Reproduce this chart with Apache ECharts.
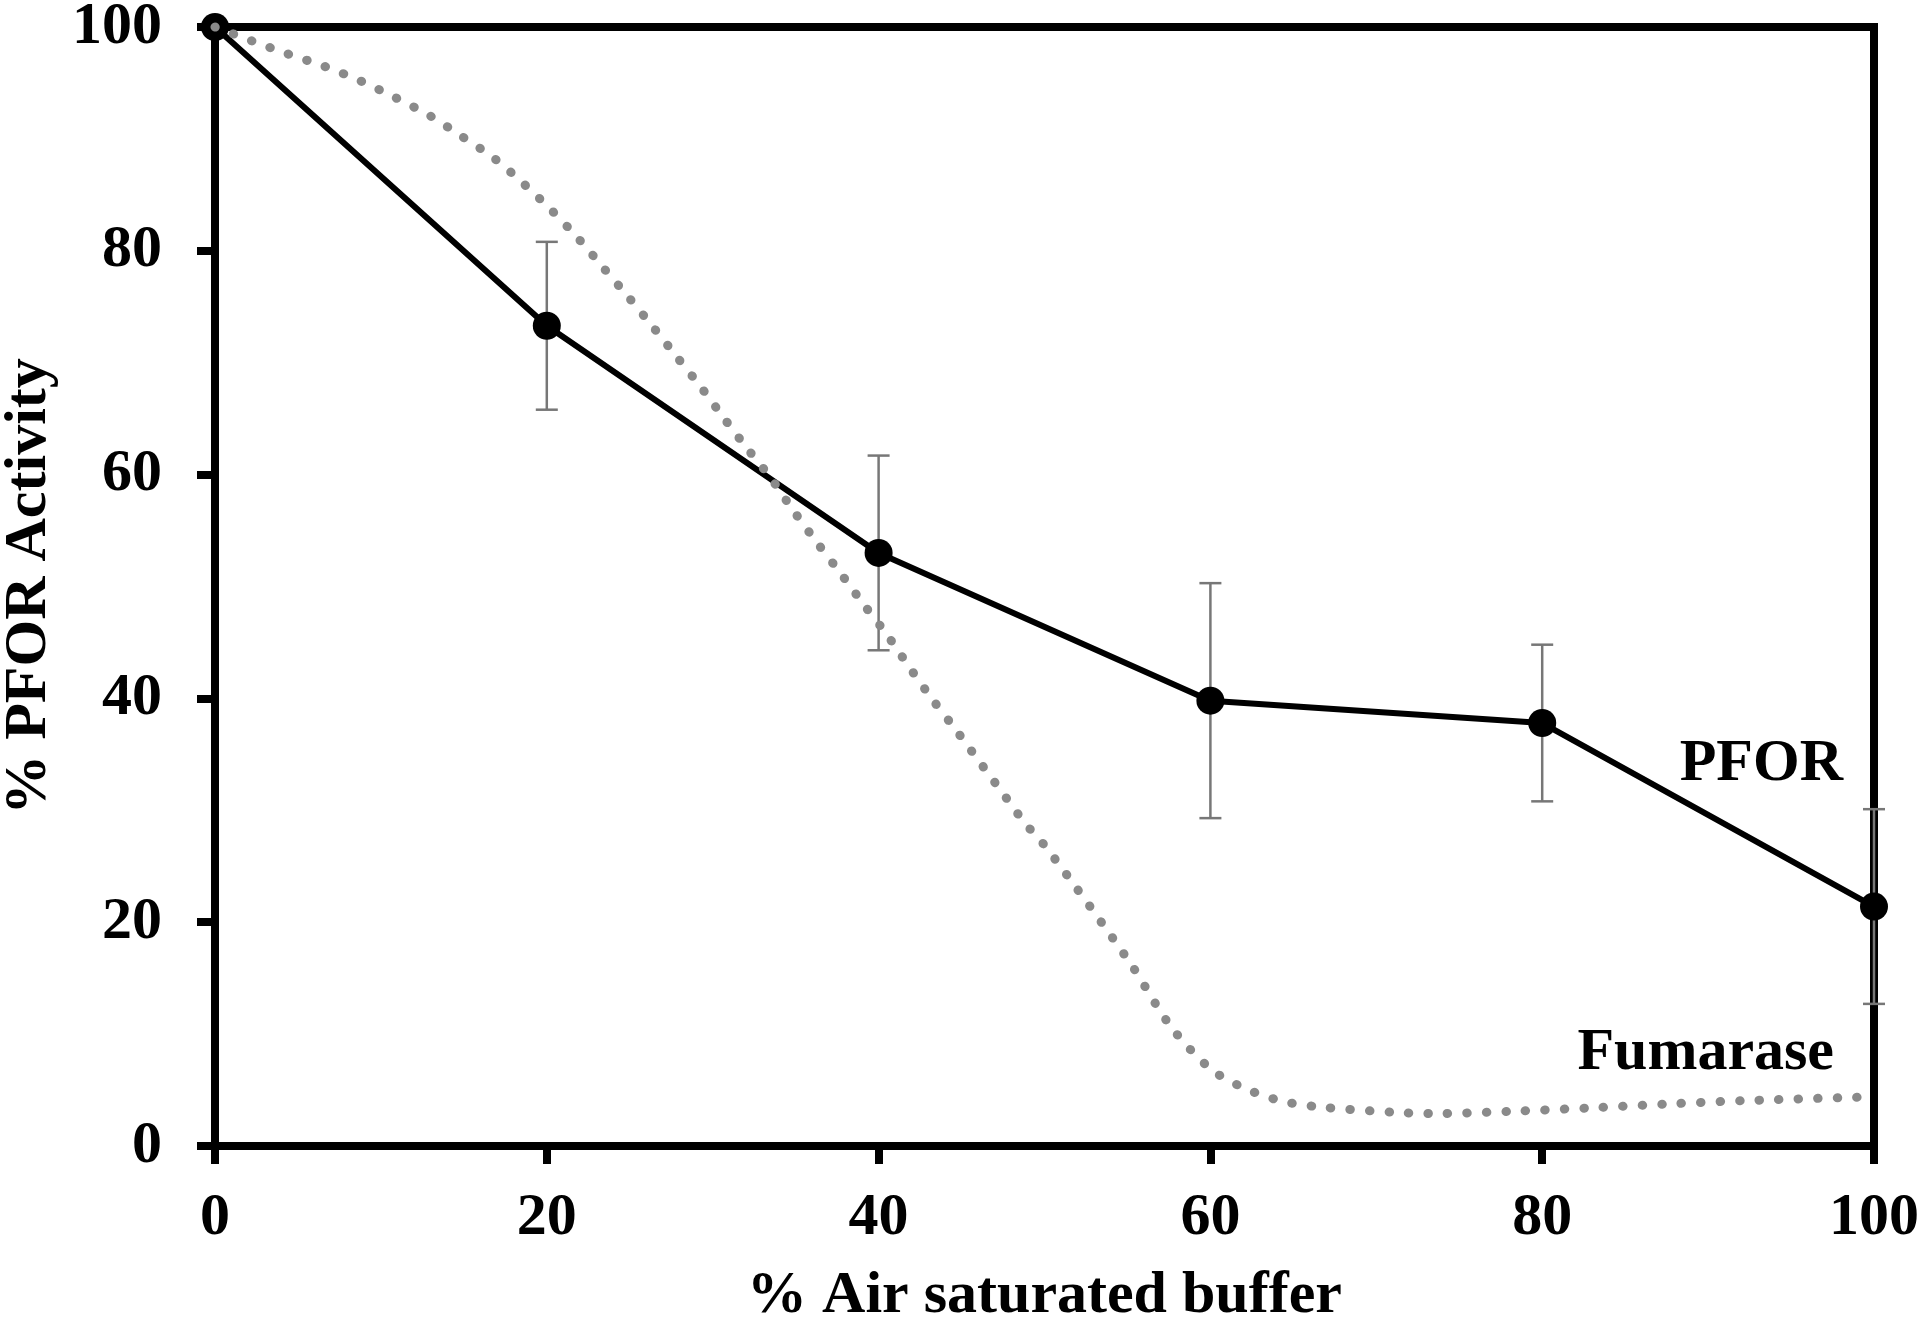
<!DOCTYPE html>
<html>
<head>
<meta charset="utf-8">
<script src="https://cdn.jsdelivr.net/npm/echarts@6/dist/echarts.min.js"></script>
<style>
html,body{margin:0;padding:0;background:#fff;}
#chart{width:1920px;height:1324px;}
</style>
</head>
<body>
<div id="chart"></div>
<script>
// ---- data ----
const xTicks = [0, 20, 40, 60, 80, 100];
const yTicks = [0, 20, 40, 60, 80, 100];
const pforX = [0, 20, 40, 60, 80, 100];
const pforValues = [100, 73.3, 53.0, 39.8, 37.8, 21.4];
const pforErrors = [0, 7.5, 8.7, 10.5, 7.0, 8.7];
const fumaraseX = [0, 2.15, 4.38, 6.57, 8.74, 10.85, 12.92, 14.9, 16.8, 18.6, 20.3, 21.9, 23.4, 24.9, 26.4, 27.85, 29.3, 30.7, 32.1, 33.5, 34.9, 36.3, 37.7, 39.1, 40.5, 41.85, 43.2, 44.6, 46.0, 47.4, 48.8, 50.2, 55.1, 57.6, 60.0, 62.0, 64.2, 66.5, 71.2, 73.5, 78.1, 82.8, 87.5, 92.1, 100];
const fumaraseValues = [100, 98.8, 97.6, 96.5, 95.2, 93.7, 92.1, 90.2, 88.3, 86.0, 83.6, 81.1, 78.5, 75.9, 73.2, 70.5, 67.8, 65.0, 62.3, 59.7, 56.7, 53.9, 51.2, 48.4, 45.7, 42.8, 40.0, 37.3, 34.5, 31.7, 28.9, 26.5, 16.5, 10.7, 6.9, 5.2, 4.05, 3.5, 3.0, 2.9, 3.1, 3.4, 3.75, 4.05, 4.4];
const xTitle = '% Air saturated buffer';
const yTitle = '% PFOR Activity';
const pforLabel = 'PFOR';
const fumaraseLabel = 'Fumarase';

// ---- build ----
const FONT = "'Liberation Serif', 'Times New Roman', serif";
const pforData = pforX.map((x, i) => [x, pforValues[i]]);
const errData = pforX.map((x, i) => [x, pforValues[i] - pforErrors[i], pforValues[i] + pforErrors[i], pforErrors[i]]);
const fumData = fumaraseX.map((x, i) => [x, fumaraseValues[i]]);

const chart = echarts.init(document.getElementById('chart'));
const axisCommon = {
  type: 'value', min: 0, max: 100, interval: 20,
  axisLine: { show: true, lineStyle: { color: '#000', width: 8 } },
  axisTick: { show: true, inside: false, length: 18, lineStyle: { color: '#000', width: 8 } },
  splitLine: { show: false },
  nameLocation: 'middle',
  nameTextStyle: { fontFamily: FONT, fontWeight: 'bold', fontSize: 60, color: '#000' }
};
chart.setOption({
  animation: false,
  backgroundColor: '#fff',
  grid: { left: 215, right: 46, top: 27, bottom: 178, containLabel: false, outerBoundsMode: 'none',
    show: true, borderColor: '#000', borderWidth: 8, backgroundColor: 'transparent' },
  xAxis: Object.assign({}, axisCommon, {
    name: xTitle, nameGap: 120,
    axisLabel: { margin: 42, fontFamily: FONT, fontWeight: 'bold', fontSize: 60, color: '#000',
      formatter: v => xTicks.includes(v) ? String(v) : '' }
  }),
  yAxis: Object.assign({}, axisCommon, {
    name: yTitle, nameGap: 156, nameRotate: 90,
    axisLabel: { margin: 53, fontFamily: FONT, fontWeight: 'bold', fontSize: 60, color: '#000',
      formatter: v => yTicks.includes(v) ? String(v) : '' }
  }),
  series: [
    {
      type: 'custom', z: 2, clip: false,
      data: errData,
      renderItem: function (params, api) {
        const x = api.value(0), lo = api.value(1), hi = api.value(2), e = api.value(3);
        if (!e) return null;
        const pl = api.coord([x, lo]), ph = api.coord([x, hi]);
        const cw = 11;
        const st = { stroke: '#777', lineWidth: 2.5 };
        return { type: 'group', children: [
          { type: 'line', shape: { x1: pl[0], y1: pl[1], x2: ph[0], y2: ph[1] }, style: st },
          { type: 'line', shape: { x1: pl[0] - cw, y1: pl[1], x2: pl[0] + cw, y2: pl[1] }, style: st },
          { type: 'line', shape: { x1: ph[0] - cw, y1: ph[1], x2: ph[0] + cw, y2: ph[1] }, style: st }
        ]};
      }
    },
    {
      name: pforLabel, type: 'line', z: 3, data: pforData,
      symbol: 'circle', symbolSize: 28,
      itemStyle: { color: '#000' },
      lineStyle: { color: '#000', width: 6 }
    },
    {
      name: fumaraseLabel, type: 'line', z: 4, data: fumData,
      smooth: 0.3, symbol: 'none', clip: false,
      lineStyle: { color: '#8a8a8a', width: 9, type: [0.5, 19], cap: 'round' }
    }
  ],
  graphic: [
    { type: 'text', right: 1920 - 1843, top: 734, z: 10,
      style: { text: pforLabel, font: 'bold 60px ' + FONT, fill: '#000' } },
    { type: 'text', right: 1920 - 1834, top: 1023, z: 10,
      style: { text: fumaraseLabel, font: 'bold 60px ' + FONT, fill: '#000' } }
  ]
});
</script>
</body>
</html>
